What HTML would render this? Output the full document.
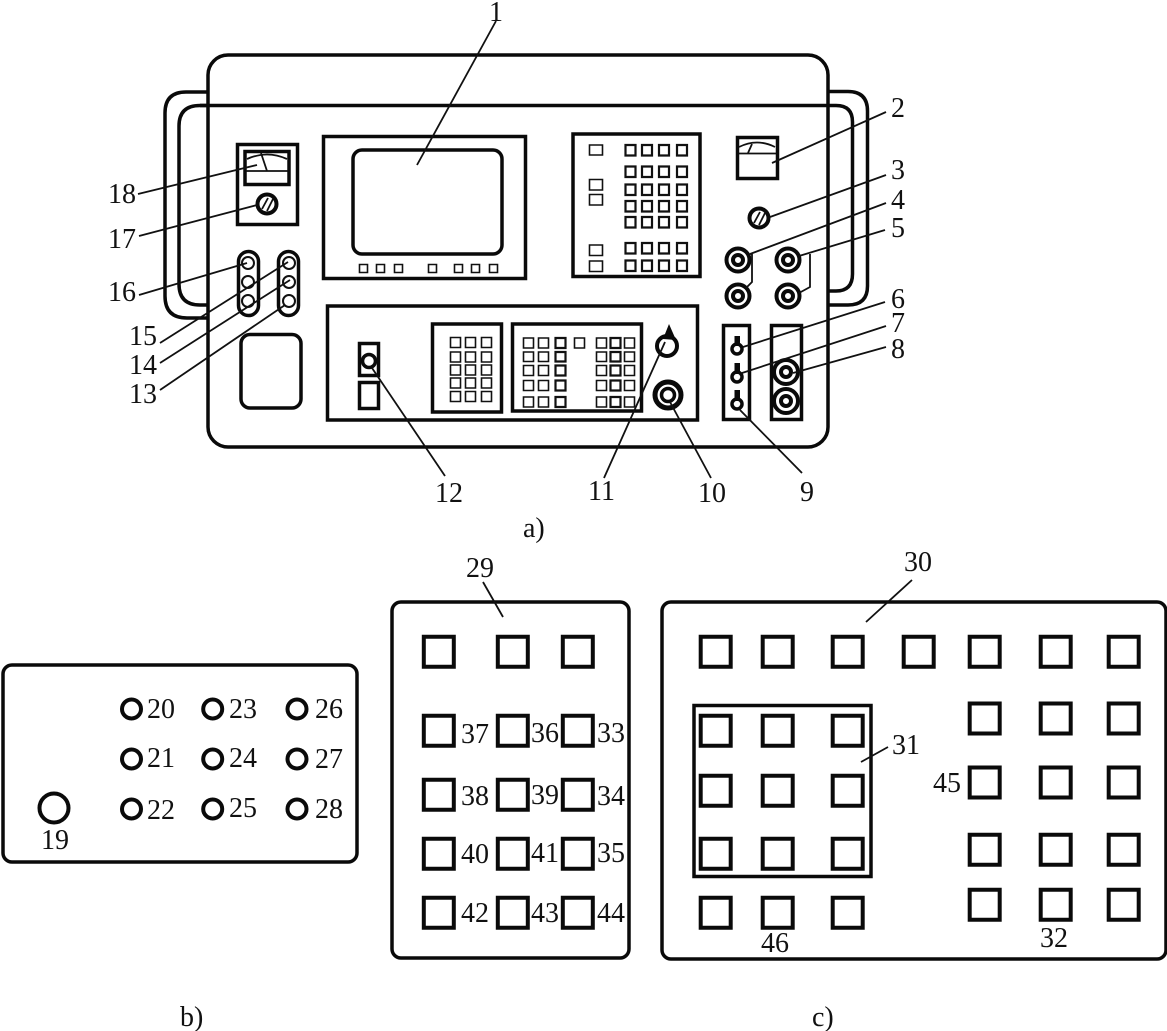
<!DOCTYPE html>
<html>
<head>
<meta charset="utf-8">
<style>
html,body{margin:0;padding:0;background:#fff;width:1167px;height:1031px;overflow:hidden}
svg{display:block}
text{font-family:"Liberation Serif",serif;font-size:28px;fill:#111}
</style>
</head>
<body>
<svg width="1167" height="1031" viewBox="0 0 1167 1031" xmlns="http://www.w3.org/2000/svg">
<rect width="1167" height="1031" fill="#fff"/>
<g fill="none" stroke="#0a0a0a" stroke-width="3.500">
  <!-- body and handles -->
  <rect x="208" y="55" width="620" height="392" rx="20"/>
  <path d="M208 92H186Q165 92 165 113V296Q165 318 187 318H208"/>
  <path d="M208 105.500H200Q179 105.500 179 126V284Q179 305 200 305H208"/>
  <path d="M200 105.500H828"/>
  <path d="M828 91.500H848Q867.500 91.500 867.500 111V286Q867.500 305 848 305H828"/>
  <path d="M828 105.500H836Q852.500 105.500 852.500 122V274Q852.500 291 836 291H828"/>

  <!-- screen -->
  <rect x="323.500" y="136.500" width="202" height="142"/>
  <rect x="353" y="150" width="149" height="104" rx="9"/>

  <!-- left meter -->
  <rect x="237.500" y="144.500" width="60" height="80"/>
  <rect x="245" y="151.500" width="44" height="33"/>
  <circle cx="267" cy="204" r="9.500" stroke-width="4"/>
  <rect x="238.500" y="251.500" width="20" height="64" rx="10"/>
  <rect x="278.500" y="251.500" width="20" height="64" rx="10"/>
  <rect x="241" y="334.500" width="60" height="73.500" rx="9"/>

  <!-- lower panel -->
  <rect x="327.500" y="306" width="370" height="114"/>
  <rect x="359.500" y="343.500" width="19" height="32"/>
  <circle cx="369" cy="361" r="6.500" stroke-width="3.500"/>
  <rect x="359.500" y="382.500" width="19" height="26"/>
  <rect x="432.500" y="324" width="69" height="88"/>
  <rect x="512.500" y="324" width="129" height="87"/>
  <circle cx="667" cy="346" r="10" stroke-width="4"/>
  <circle cx="668" cy="395" r="13" stroke-width="5"/>
  <circle cx="668" cy="395" r="6.500" stroke-width="3.500"/>

  <!-- right keypad -->
  <rect x="573" y="134" width="127" height="142.500"/>
  <rect x="737.500" y="137.500" width="40" height="41"/>

  <!-- knob + jacks -->
  <circle cx="759" cy="218" r="9.500" stroke-width="4"/>
  <g stroke-width="4">
  <circle cx="738" cy="260" r="11.500"/><circle cx="738" cy="260" r="5"/>
  <circle cx="788" cy="260" r="11.500"/><circle cx="788" cy="260" r="5"/>
  <circle cx="738" cy="296" r="11.500"/><circle cx="738" cy="296" r="5"/>
  <circle cx="788" cy="296" r="11.500"/><circle cx="788" cy="296" r="5"/>
  <circle cx="786" cy="372" r="12"/><circle cx="786" cy="372" r="5"/>
  <circle cx="786" cy="401" r="12"/><circle cx="786" cy="401" r="5"/>
  </g>

  <!-- switches -->
  <rect x="723.500" y="325.500" width="26" height="94"/>
  <rect x="771.500" y="325.500" width="30" height="94"/>
  <circle cx="737" cy="349" r="5"/>
  <circle cx="737" cy="377" r="5"/>
  <circle cx="737" cy="404" r="5"/>

  <!-- panels b, 29, 30 -->
  <rect x="3" y="665" width="354" height="197" rx="9"/>
  <rect x="392" y="602" width="237" height="356" rx="9"/>
  <rect x="662" y="602" width="504" height="357" rx="9"/>
  <rect x="694" y="705.500" width="177" height="171"/>
</g>

<!-- thin circles -->
<g fill="none" stroke="#111" stroke-width="2">
  <circle cx="248" cy="263" r="6"/><circle cx="248" cy="282" r="6"/><circle cx="248" cy="301" r="6"/>
  <circle cx="289" cy="263" r="6"/><circle cx="289" cy="282" r="6"/><circle cx="289" cy="301" r="6"/>
</g>

<!-- meter details + hatches -->
<g fill="none" stroke="#111" stroke-width="1.800">
  <path d="M247 159Q267 150 287 159"/>
  <path d="M246 171H288"/>
  <path d="M261 153L267 171"/>
  <path d="M739 147Q757 138 775 147"/>
  <path d="M739 153.500H776"/>
  <path d="M752 144L748 153"/>
  <path d="M262 209L268 198M267 211L273 199"/>
  <path d="M754 223L760 212M759 225L765 213"/>
</g>

<!-- solid bits -->
<g fill="#0a0a0a">
  <path d="M669 324L663 339L676 340Z"/>
  <rect x="734.500" y="336" width="5.500" height="10"/>
  <rect x="734.500" y="363" width="5.500" height="11"/>
  <rect x="734.500" y="390" width="5.500" height="11"/>
</g>

<!-- small keys -->
<path fill="none" stroke="#111" stroke-width="1.600" d="
M359.500 264.500h8v8h-8z M376.500 264.500h8v8h-8z M394.500 264.500h8v8h-8z M428.500 264.500h8v8h-8z M454.500 264.500h8v8h-8z M471.500 264.500h8v8h-8z M489.500 264.500h8v8h-8z
M589.500 145h13v10h-13z M589.500 179.500h13v10.500h-13z M589.500 194.500h13v10.500h-13z M589.500 245h13v10.500h-13z M589.500 261h13v10.500h-13z
M450.500 337.500h10v10h-10z M465.500 337.500h10v10h-10z M481.500 337.500h10v10h-10z
M450.500 352h10v10h-10z M465.500 352h10v10h-10z M481.500 352h10v10h-10z
M450.500 365h10v10h-10z M465.500 365h10v10h-10z M481.500 365h10v10h-10z
M450.500 378h10v10h-10z M465.500 378h10v10h-10z M481.500 378h10v10h-10z
M450.500 391.500h10v10h-10z M465.500 391.500h10v10h-10z M481.500 391.500h10v10h-10z
M523.500 338h10v10h-10z M538.500 338h10v10h-10z M574.500 338h10v10h-10z M596.500 338h10v10h-10z M624.500 338h10v10h-10z
M523.500 352h10v9.500h-10z M538.500 352h10v9.500h-10z M596.500 352h10v9.500h-10z M624.500 352h10v9.500h-10z
M523.500 365.500h10v10h-10z M538.500 365.500h10v10h-10z M596.500 365.500h10v10h-10z M624.500 365.500h10v10h-10z
M523.500 380.500h10v10h-10z M538.500 380.500h10v10h-10z M596.500 380.500h10v10h-10z M624.500 380.500h10v10h-10z
M523.500 397h10v10h-10z M538.500 397h10v10h-10z M596.500 397h10v10h-10z M624.500 397h10v10h-10z"/>
<path fill="none" stroke="#111" stroke-width="2.200" d="
M625.500 145h10v10.500h-10z M642 145h10v10.500h-10z M659 145h10v10.500h-10z M677 145h10v10.500h-10z
M625.500 166.500h10v10.500h-10z M642 166.500h10v10.500h-10z M659 166.500h10v10.500h-10z M677 166.500h10v10.500h-10z
M625.500 184.500h10v10.500h-10z M642 184.500h10v10.500h-10z M659 184.500h10v10.500h-10z M677 184.500h10v10.500h-10z
M625.500 201h10v10.500h-10z M642 201h10v10.500h-10z M659 201h10v10.500h-10z M677 201h10v10.500h-10z
M625.500 217h10v10.500h-10z M642 217h10v10.500h-10z M659 217h10v10.500h-10z M677 217h10v10.500h-10z
M625.500 243h10v10.500h-10z M642 243h10v10.500h-10z M659 243h10v10.500h-10z M677 243h10v10.500h-10z
M625.500 260.500h10v10.500h-10z M642 260.500h10v10.500h-10z M659 260.500h10v10.500h-10z M677 260.500h10v10.500h-10z
M555.500 338h10v10h-10z M610.500 338h10v10h-10z
M555.500 352h10v9.500h-10z M610.500 352h10v9.500h-10z
M555.500 365.500h10v10h-10z M610.500 365.500h10v10h-10z
M555.500 380.500h10v10h-10z M610.500 380.500h10v10h-10z
M555.500 397h10v10h-10z M610.500 397h10v10h-10z"/>

<!-- b circles -->
<g fill="none" stroke="#0a0a0a" stroke-width="4">
  <circle cx="131.500" cy="709" r="9.500"/><circle cx="212.700" cy="709" r="9.500"/><circle cx="297" cy="709" r="9.500"/>
  <circle cx="131.500" cy="759" r="9.500"/><circle cx="212.700" cy="759" r="9.500"/><circle cx="297" cy="759" r="9.500"/>
  <circle cx="131.500" cy="809" r="9.500"/><circle cx="212.700" cy="809" r="9.500"/><circle cx="297" cy="809" r="9.500"/>
  <circle cx="54" cy="808" r="14.500"/>
</g>

<!-- large squares -->
<path fill="none" stroke="#0a0a0a" stroke-width="4" d="
M423.800 636.700h30v30h-30z M497.800 636.700h30v30h-30z M562.800 636.700h30v30h-30z
M423.800 715.700h30v30h-30z M497.800 715.700h30v30h-30z M562.800 715.700h30v30h-30z
M423.800 779.700h30v30h-30z M497.800 779.700h30v30h-30z M562.800 779.700h30v30h-30z
M423.800 838.700h30v30h-30z M497.800 838.700h30v30h-30z M562.800 838.700h30v30h-30z
M423.800 897.700h30v30h-30z M497.800 897.700h30v30h-30z M562.800 897.700h30v30h-30z
M700.700 636.700h30v30h-30z M762.700 636.700h30v30h-30z M832.700 636.700h30v30h-30z M903.700 636.700h30v30h-30z M969.700 636.700h30v30h-30z M1040.700 636.700h30v30h-30z M1108.700 636.700h30v30h-30z
M700.700 715.700h30v30h-30z M762.700 715.700h30v30h-30z M832.700 715.700h30v30h-30z
M700.700 775.700h30v30h-30z M762.700 775.700h30v30h-30z M832.700 775.700h30v30h-30z
M700.700 838.700h30v30h-30z M762.700 838.700h30v30h-30z M832.700 838.700h30v30h-30z
M700.700 897.700h30v30h-30z M762.700 897.700h30v30h-30z M832.700 897.700h30v30h-30z
M969.700 703.500h30v30h-30z M1040.700 703.500h30v30h-30z M1108.700 703.500h30v30h-30z
M969.700 767.500h30v30h-30z M1040.700 767.500h30v30h-30z M1108.700 767.500h30v30h-30z
M969.700 834.700h30v30h-30z M1040.700 834.700h30v30h-30z M1108.700 834.700h30v30h-30z
M969.700 889.700h30v30h-30z M1040.700 889.700h30v30h-30z M1108.700 889.700h30v30h-30z"/>

<!-- leaders -->
<g fill="none" stroke="#111" stroke-width="1.800">
  <path d="M496 21L417 165"/>
  <path d="M886 112L772 163"/>
  <path d="M886 175L770 217"/>
  <path d="M886 203L750 254L752 254V282L746 288"/>
  <path d="M885 230L799 256"/>
  <path d="M810 254V287L799 293"/>
  <path d="M885 302L743 347"/>
  <path d="M886 326L742 373"/>
  <path d="M886 347L793 373"/>
  <path d="M802 473L740 410"/>
  <path d="M711 478L670 402"/>
  <path d="M604 478L665 342"/>
  <path d="M445 476L372 368"/>
  <path d="M160 390L285 305"/>
  <path d="M160 363L290 280"/>
  <path d="M160 343L288 262"/>
  <path d="M139 295L247 263"/>
  <path d="M139 236L257 205"/>
  <path d="M138 194L257 165"/>
  <path d="M483 582L503 617"/>
  <path d="M912 580L866 622"/>
  <path d="M888 747L861 762"/>
</g>

<!-- labels -->
<g>
  <text x="489" y="21">1</text>
  <text x="891" y="117">2</text>
  <text x="891" y="179">3</text>
  <text x="891" y="209">4</text>
  <text x="891" y="237">5</text>
  <text x="891" y="308">6</text>
  <text x="891" y="332">7</text>
  <text x="891" y="358">8</text>
  <text x="800" y="501">9</text>
  <text x="698" y="502">10</text>
  <text x="588" y="500">11</text>
  <text x="435" y="502">12</text>
  <text x="129" y="403">13</text>
  <text x="129" y="374">14</text>
  <text x="129" y="345">15</text>
  <text x="108" y="301">16</text>
  <text x="108" y="248">17</text>
  <text x="108" y="203">18</text>
  <text x="523" y="537">a)</text>

  <text x="41" y="849">19</text>
  <text x="147" y="718">20</text>
  <text x="147" y="767">21</text>
  <text x="147" y="819">22</text>
  <text x="229" y="718">23</text>
  <text x="229" y="767">24</text>
  <text x="229" y="817">25</text>
  <text x="315" y="718">26</text>
  <text x="315" y="768">27</text>
  <text x="315" y="818">28</text>

  <text x="466" y="577">29</text>
  <text x="461" y="743">37</text>
  <text x="531" y="742">36</text>
  <text x="597" y="742">33</text>
  <text x="461" y="805">38</text>
  <text x="531" y="804">39</text>
  <text x="597" y="805">34</text>
  <text x="461" y="863">40</text>
  <text x="531" y="862">41</text>
  <text x="597" y="862">35</text>
  <text x="461" y="922">42</text>
  <text x="531" y="922">43</text>
  <text x="597" y="922">44</text>

  <text x="904" y="571">30</text>
  <text x="892" y="754">31</text>
  <text x="933" y="792">45</text>
  <text x="761" y="952">46</text>
  <text x="1040" y="947">32</text>

  <text x="180" y="1026">b)</text>
  <text x="812" y="1026">c)</text>
</g>
</svg>
</body>
</html>
